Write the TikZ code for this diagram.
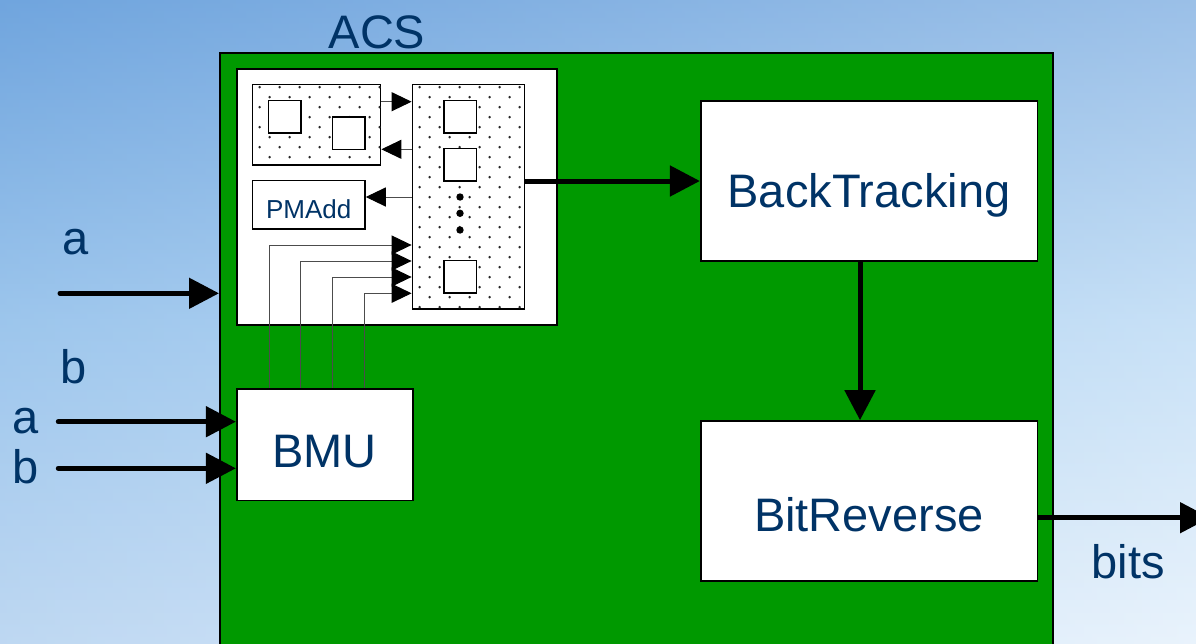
\documentclass[tikz,border=0pt]{standalone}
\usepackage{fontspec}
\setmainfont{Liberation Sans}
\usetikzlibrary{arrows.meta,calc}

\definecolor{acsgreen}{RGB}{0,153,0}
\definecolor{labelblue}{RGB}{0,51,102}
\definecolor{skytop}{RGB}{112,165,222}
\definecolor{skymid}{RGB}{176,212,243}
\definecolor{skybot}{RGB}{224,238,251}

% stipple a rectangular node with a staggered grid of small dots
\newcommand\stipple[1]{%
  \begin{scope}
    \clip (#1.north west) rectangle (#1.south east);
    \foreach \r in {0,...,23}{
      \foreach \c in {0,...,6}{
        \fill[black!85] ($(#1.north west)+({8+mod(\r,2)*10+20*\c},{3.5+10*\r})$) circle (1.35pt);
      }
    }
  \end{scope}}

\begin{document}
\begin{tikzpicture}[x=1pt,y=-1pt,
  big/.style={font=\fontsize{47}{56}\selectfont, text=labelblue},
  small/.style={font=\fontsize{26}{30}\selectfont, text=labelblue},
  box/.style={draw=black, line width=1.6pt, fill=white, inner sep=0pt, rectangle},
  cell/.style={draw=black, line width=1.5pt, fill=white, inner sep=0pt, minimum width=32.5pt, minimum height=32.5pt},
  thick arrow/.style={line width=5pt, -{Triangle[length=30pt,width=30pt]}},
  thin arrow/.style={line width=1pt, draw=black!70, -{Triangle[length=20pt,width=19pt,color=black]}}
]
\useasboundingbox (0,0) rectangle (1196,643);
\clip (0,0) rectangle (1196,643);

% sky background
\shade[top color=skytop, bottom color=skybot, middle color=skymid] (0,0) rectangle (1196,643);
\shade[left color=skytop, right color=white, opacity=0.3] (0,0) rectangle (1196,643);

% ACS block
\node[box, fill=acsgreen, line width=2pt, minimum width=833pt, minimum height=620pt] (acs) at (636.5,363) {};
\node[big, anchor=base] (acslabel) at (377,48) {ACS};

% inner add-compare-select unit
\node[box, minimum width=320pt, minimum height=256pt] (inner) at (396.7,197.2) {};
\node[box, line width=1.4pt, minimum width=128.4pt, minimum height=80.7pt] (mem) at (316.5,124.7) {};
\node[box, line width=1.4pt, minimum width=112.4pt, minimum height=224.7pt] (pe) at (468.5,196.7) {};
\stipple{mem}
\stipple{pe}
\node[cell] (m1) at (284.5,116.8) {};
\node[cell] (m2) at (348.6,133) {};
\node[cell] (p1) at (460.3,116.8) {};
\node[cell] (p2) at (460.3,164.8) {};
\node[cell] (p3) at (460.3,276.8) {};
\fill (460,197) circle (3.7pt) (460,213.3) circle (3.7pt) (460,230) circle (3.7pt);
\node[box, line width=1.4pt, small, minimum width=112.7pt, minimum height=48.3pt, text height=30pt, text depth=3pt] (pmadd) at (308.7,204.8) {PMAdd};

% branch metric unit
\node[box, big, minimum width=176pt, minimum height=111.7pt, text height=50pt, text depth=5pt] (bmu) at (324.7,444.8) {BMU};

% back tracking and bit reversal
\node[box, big, minimum width=336.6pt, minimum height=160pt, text height=60pt, text depth=6.6pt] (bt) at (869,181) {BackTracking};
\node[box, big, minimum width=336.6pt, minimum height=160pt, text height=66pt, text depth=4.6pt] (br) at (869,501) {BitReverse};

% internal links
\draw[thin arrow] (mem.east |- 0,101.7) -- (pe.west |- 0,101.7);
\draw[thin arrow] (pe.west |- 0,149.3) -- (mem.east |- 0,149.3);
\draw[thin arrow] (pe.west |- 0,197) -- (pmadd.east |- 0,197);
\draw[thin arrow] (bmu.north -| 269,0) |- (pe.west |- 0,245);
\draw[thin arrow] (bmu.north -| 300.3,0) |- (pe.west |- 0,261);
\draw[thin arrow] (bmu.north -| 332.3,0) |- (pe.west |- 0,277);
\draw[thin arrow] (bmu.north -| 364.7,0) |- (pe.west |- 0,293.3);

% data path
\draw[thick arrow] (pe.east |- bt.west) -- (bt.west);
\draw[thick arrow] (bt.south -| 860,0) -- (br.north -| 860,0);
\coordinate (out) at (1210,517.7);
\draw[thick arrow] (br.east |- out) -- (out);

% inputs
\coordinate (ina) at (60,293.3);
\coordinate (inba) at (58.3,421.7);
\coordinate (inbb) at (58.3,468.3);
\draw[thick arrow, line cap=round] (ina) -- (acs.west |- ina);
\draw[thick arrow, line cap=round] (inba) -- (bmu.west |- inba);
\draw[thick arrow, line cap=round] (inbb) -- (bmu.west |- inbb);

% signal labels
\node[big, anchor=base] (la1) at (75.8,254.3) {a};
\node[big, anchor=base] (lb1) at (73.8,383.3) {b};
\node[big, anchor=base] (la2) at (25.8,433.3) {a};
\node[big, anchor=base] (lb2) at (25.5,483.3) {b};
\node[big, anchor=base] (lbits) at (1128.3,578.3) {bits};
\end{tikzpicture}
\end{document}
